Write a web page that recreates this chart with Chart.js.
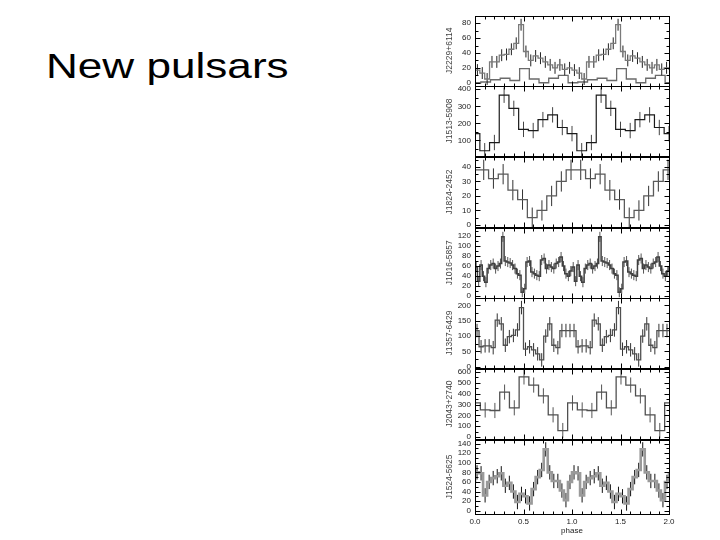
<!DOCTYPE html>
<html>
<head>
<meta charset="utf-8">
<script src="https://cdn.jsdelivr.net/npm/chart.js@4/dist/chart.umd.min.js"></script>
<style>
body { margin: 0; width: 720px; height: 540px; background: #fff; overflow: hidden; position: relative; font-family: "Liberation Sans", Arial, sans-serif; }
#title { position: absolute; left: 46px; top: 46px; font-size: 35px; transform: scaleX(1.26); transform-origin: left top; color: #000; white-space: nowrap; }
canvas { position: absolute; }
</style>
</head>
<body>
<div id="title">New pulsars</div>
<div id="charts"></div>
<script>
// pulsar names (y titles), top to bottom
var names = ['J2229+6114', 'J1513-5908', 'J1824-2452', 'J1016-5857', 'J1357-6429', 'J2043+2740', 'J1524-5625'];
var phaseTicks = ['0.0', '0.5', '1.0', '1.5', '2.0'];

// one period of each profile (counts per phase bin), bins start at binStart
var j2229 = [17, 13, 5, 28, 28, 37, 38, 45, 53, 78, 42, 30, 36, 33, 28, 24, 20, 24, 18, 20];
var j2229low = [1, 4, 6, 3, 19, 5, 0, 6, 10, 0];
var j1513 = [40, 88, 365, 288, 165, 158, 222, 250, 176, 140];
var j1824 = [38, 32, 35, 24, 17.5, 5, 10, 20, 30, 38];
var j1016 = [58, 30, 62, 40, 28, 55, 62, 65, 55, 60, 65, 118, 70, 68, 66, 62, 55, 45, 42, 8,
             15, 68, 70, 48, 45, 42, 40, 72, 75, 55, 62, 58, 55, 65, 68, 78, 60, 45, 40, 50];
var j1357 = [118, 65, 68, 68, 62, 152, 140, 70, 98, 102, 120, 193, 57, 65, 55, 42, 22, 100, 140, 70, 62, 118, 118, 118];
var j2043 = [250, 245, 415, 270, 555, 480, 380, 205, 60, 315];
var j1524 = [80, 78, 32, 60, 68, 72, 78, 52, 58, 40, 18, 35, 30, 15, 45, 70, 85, 128, 80, 62, 62, 42, 22, 60];

var profiles = [j2229, j1513, j1824, j1016, j1357, j2043, j1524];
var binStart = [0, 0.05, 0.04, 0, 0, 0.055, 0];
var lowStart = 0.06;
var errors = [8, 45, 7, 10, 22, 70, 15];
var yMin = [-4, 8, -1.5, -3, -5, -20, -7];
var yMax = [90, 420, 47, 136, 225, 630, 148];
var yStep = [20, 100, 10, 20, 50, 100, 20];

var lineColors = ['#7a7a7a', '#1a1a1a', '#5a5a5a', '#404040', '#505050', '#505050', '#9a9a9a'];
var lineWidths = [1.3, 1.2, 1.3, 1.5, 1.3, 1.3, 2.6];
var errColors = ['#222', '#444', '#333', '#555', '#333', '#555', '#111'];

// histogram points at bin edges, repeated over phase 0..2
function steps(vals, start) {
  var n = vals.length, w = 1 / n, pts = [];
  for (var k = -1; start + k * w < 2 + w; k++) {
    pts.push({x: start + k * w, y: vals[((k % n) + n) % n]});
  }
  return pts;
}
function errBars(vals, start, err) {
  var n = vals.length, w = 1 / n, pts = [];
  for (var k = -1; start + (k + 0.5) * w <= 2; k++) {
    var c = start + (k + 0.5) * w;
    if (c < 0) continue;
    var v = vals[((k % n) + n) % n];
    pts.push({x: c, y: v - err}, {x: c, y: v + err}, {x: c, y: null});
  }
  return pts;
}

var framePlugin = {
  id: 'frame',
  afterDraw: function(chart) {
    var a = chart.chartArea, ctx = chart.ctx, xs = chart.scales.x, ys = chart.scales.y;
    var L = Math.round(a.left) + 0.5, R = Math.round(a.right) + 0.5, T = Math.round(a.top) + 0.5, B = Math.round(a.bottom) + 0.5;
    ctx.save();
    ctx.strokeStyle = '#000';
    ctx.lineWidth = 1;
    ctx.strokeRect(L, T, R - L, B - T);
    ctx.beginPath();
    for (var p = 0; p <= 20; p++) {
      var px = Math.round(xs.getPixelForValue(p / 10)) + 0.5;
      var len = p % 5 === 0 ? 5 : 3;
      ctx.moveTo(px, B); ctx.lineTo(px, B - len);
      ctx.moveTo(px, T); ctx.lineTo(px, T + len);
    }
    var step = chart.options.scales.y.ticks.stepSize;
    for (var v = Math.ceil(ys.min / (step / 2)) * step / 2; v <= ys.max; v += step / 2) {
      var py = Math.round(ys.getPixelForValue(v)) + 0.5;
      var l2 = Math.abs(v / step - Math.round(v / step)) < 1e-6 ? 5 : 3;
      ctx.moveTo(L, py); ctx.lineTo(L + l2, py);
      ctx.moveTo(R, py); ctx.lineTo(R - l2, py);
    }
    ctx.stroke();
    ctx.restore();
  }
};

var panelTop = 15, panelH = 70.7, plotLeft = 475, plotRight = 669;
var canvasLeft = 430, canvasW = 250;
var holder = document.getElementById('charts');

names.forEach(function(name, i) {
  var last = i === names.length - 1;
  var top = panelTop + i * panelH;
  var cTop = Math.floor(top) - 8;
  var cH = last ? 540 - cTop : 88;
  var padTop = top - cTop;
  var padBottom = last ? 0 : cH - padTop - panelH;
  var cv = document.createElement('canvas');
  cv.width = canvasW; cv.height = cH;
  cv.style.left = canvasLeft + 'px'; cv.style.top = cTop + 'px';
  holder.appendChild(cv);

  var datasets = [{
    data: steps(profiles[i], binStart[i]),
    borderColor: lineColors[i], borderWidth: lineWidths[i], stepped: true, pointRadius: 0, fill: false
  }, {
    data: errBars(profiles[i], binStart[i], errors[i]),
    borderColor: errColors[i], borderWidth: 1, pointRadius: 0, spanGaps: false, fill: false
  }];
  if (i === 0) {
    datasets.push({
      data: steps(j2229low, lowStart),
      borderColor: '#6a6a6a', borderWidth: 1.3, stepped: true, pointRadius: 0, fill: false
    });
  }

  var xScale = {
    type: 'linear', min: 0, max: 2, offset: false, display: last,
    grid: {display: false, drawTicks: false}, border: {display: false},
    ticks: {stepSize: 0.5, padding: 3, color: '#222', font: {size: 8, family: 'Liberation Sans'},
            autoSkip: false, maxRotation: 0,
            callback: function(v) { return phaseTicks[Math.round(v * 2)]; }},
    title: {display: true, text: 'phase', color: '#222', font: {size: 8, family: 'Liberation Sans'}, padding: {top: 2, bottom: 4}}
  };
  if (last) xScale.afterFit = function(s) { s.height = 26; };

  new Chart(cv, {
    type: 'line',
    data: {datasets: datasets},
    options: {
      responsive: false, animation: false, devicePixelRatio: 1,
      layout: {padding: {left: 11, right: canvasLeft + canvasW - plotRight, top: padTop, bottom: padBottom}},
      plugins: {legend: {display: false}, tooltip: {enabled: false}},
      scales: {
        x: xScale,
        y: {
          type: 'linear', min: yMin[i], max: yMax[i],
          grid: {display: false, drawTicks: false}, border: {display: false},
          ticks: {stepSize: yStep[i], includeBounds: false, autoSkip: false, padding: 4, color: '#222',
                  font: {size: 8, family: 'Liberation Sans'}},
          title: {display: true, text: name, color: '#444', font: {size: 8.5, family: 'Liberation Sans'}, padding: {top: 4, bottom: 0}},
          afterFit: function(s) { s.width = plotLeft - canvasLeft - 11; }
        }
      }
    },
    plugins: [framePlugin]
  });
});
</script>
</body>
</html>
